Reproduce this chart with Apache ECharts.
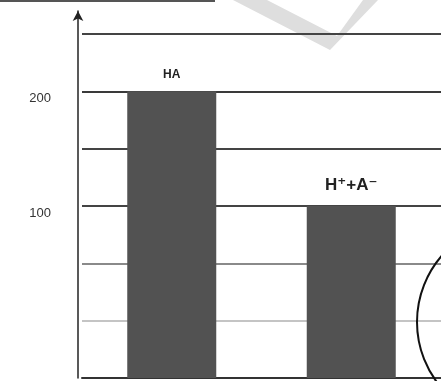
<!DOCTYPE html>
<html>
<head>
<meta charset="utf-8">
<script src="https://cdn.jsdelivr.net/npm/echarts@6/dist/echarts.min.js"></script>
<style>
  html, body { margin: 0; padding: 0; background: #fff; }
  #chart { width: 441px; height: 381px; }
</style>
</head>
<body>
<div id="chart"></div>
<script>
// species in the solution
const categories = ["HA", "H⁺+A⁻"];
const amounts = [200, 100];
// only these ticks carry a label
const labelledTicks = [100, 200];

const INK = "#333";
const FONT = "'Liberation Sans', 'DejaVu Sans', sans-serif";

const chart = echarts.init(document.getElementById("chart"));

chart.setOption({
  backgroundColor: "#fff",
  animation: false,
  grid: { left: 82, right: 0, top: 11, bottom: 3 },
  graphic: [
    // scan leftovers: watermark stroke and the top rule
    {
      type: "polygon",
      z: -10,
      shape: { points: [[233, 0], [267, 0], [337, 36], [363, 0], [378, 0], [330, 50]] },
      style: { fill: "#dedede" },
    },
    {
      type: "line",
      shape: { x1: 0, y1: 1, x2: 215, y2: 1 },
      style: { stroke: "#555", lineWidth: 2 },
    },
    // partial circle cut by the right edge
    {
      type: "circle",
      shape: { cx: 518, cy: 322, r: 101 },
      style: { fill: "none", stroke: "#111", lineWidth: 2 },
      z: 20,
    },
  ],
  xAxis: {
    type: "category",
    data: categories,
    axisLine: { onZero: false, lineStyle: { color: INK, width: 2 } },
    axisTick: { show: false },
    axisLabel: { show: false },
  },
  yAxis: {
    type: "value",
    min: -50,
    max: 270,
    interval: 50,
    startValue: -50,
    offset: 4,
    axisLine: {
      show: true,
      symbol: ["none", "arrow"],
      symbolSize: [8, 10],
      lineStyle: { color: "#222", width: 1.5 },
    },
    axisTick: { show: false },
    axisLabel: {
      margin: 27,
      verticalAlign: "top",
      padding: [1, 0, 0, 0],
      fontSize: 13,
      fontFamily: FONT,
      color: INK,
      formatter: (v) => (labelledTicks.includes(v) ? String(v) : ""),
    },
    splitLine: {
      show: true,
      showMinLine: false,
      showMaxLine: false,
      lineStyle: {
        width: 2,
        // 0 .. 250, darker toward the top like the scan
        color: ["#c4c4c4", "#8a8a8a", "#444", "#444", "#3a3a3a", "#444"],
      },
    },
  },
  series: [
    {
      type: "bar",
      data: [
        { value: amounts[0], label: { fontSize: 12, distance: 11 } },
        { value: amounts[1], label: { fontSize: 17, distance: 12 } },
      ],
      barWidth: 89,
      itemStyle: { color: "#525252" },
      label: {
        show: true,
        position: "top",
        fontFamily: FONT,
        fontWeight: "bold",
        color: "#222",
        formatter: (p) => p.name,
      },
      z: 5,
    },
  ],
});
</script>
</body>
</html>
